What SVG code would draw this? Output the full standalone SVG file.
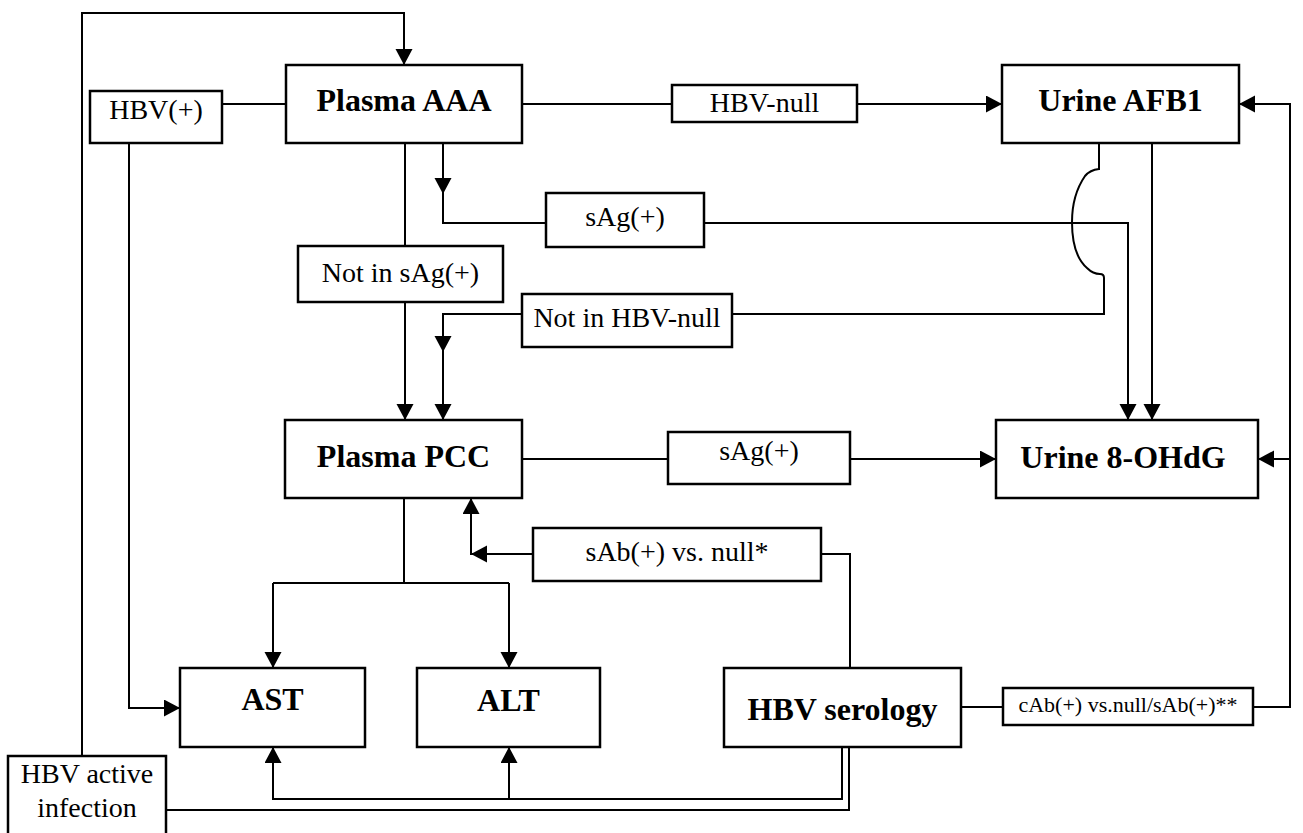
<svg xmlns="http://www.w3.org/2000/svg" width="1303" height="833" viewBox="0 0 1303 833">
<defs>
<marker id="ah" markerUnits="userSpaceOnUse" markerWidth="18" markerHeight="18" refX="16" refY="8.5" orient="auto">
<path d="M0,0 L16,8.5 L0,17 z" fill="#000"/>
</marker>
<style>
.box{fill:#fff;stroke:#000;stroke-width:2.5}
.n{font-family:"Liberation Serif","Times New Roman",serif;font-weight:bold;font-size:32px;text-anchor:middle;fill:#000}
.e{font-family:"Liberation Serif","Times New Roman",serif;font-size:28px;text-anchor:middle;fill:#000}
.s{font-family:"Liberation Serif","Times New Roman",serif;font-size:22px;text-anchor:middle;fill:#000}
.c{fill:none;stroke:#000;stroke-width:2}
.a{marker-end:url(#ah)}
</style>
</defs>
<rect width="1303" height="833" fill="#fff"/>
<g id="connectors">
<path class="c a" d="M82,756 V13 H404 V65"/>
<path class="c" d="M222,104 H286"/>
<path class="c" d="M522,104 H672"/>
<path class="c a" d="M857,104 H1002"/>
<path class="c a" d="M129,143 V708 H180"/>
<path class="c" d="M405,143 V246"/>
<path class="c a" d="M405,302 V420"/>
<path class="c a" d="M443,143 V194"/>
<path class="c" d="M443,192 V223 H546"/>
<path class="c a" d="M704,223 H1128 V420"/>
<path class="c a" d="M1152,143 V420"/>
<path class="c" d="M1099,143 V169 Q1090,170 1085,176 Q1072,195 1072,222 Q1072,255 1087,268 Q1093,274 1100,274 Q1104,274 1104,278 V314 H732"/>
<path class="c a" d="M522,314 H443 V352"/>
<path class="c a" d="M443,350 V420"/>
<path class="c" d="M522,459 H668"/>
<path class="c a" d="M850,459 H996"/>
<path class="c" d="M404,498 V583 M273,583 H509"/>
<path class="c a" d="M273,583 V668"/>
<path class="c a" d="M509,583 V668"/>
<path class="c" d="M850,668 V554 H821"/>
<path class="c a" d="M533,554 H471"/>
<path class="c a" d="M471,555 V498"/>
<path class="c" d="M961,707 H1003"/>
<path class="c a" d="M1253,707 H1290 V104 H1239"/>
<path class="c a" d="M1290,459 H1258"/>
<path class="c a" d="M842,747 V799 H273 V747"/>
<path class="c a" d="M509,799 V747"/>
<path class="c" d="M166,810 H849 V747"/>
</g>
<g id="hbv-pos"><rect class="box" x="90" y="91" width="132" height="52"/><text class="e" x="156" y="119">HBV(+)</text></g>
<g id="plasma-aaa"><rect class="box" x="286" y="65" width="236" height="78"/><text class="n" x="404" y="111">Plasma AAA</text></g>
<g id="hbv-null"><rect class="box" x="672" y="85" width="185" height="37"/><text class="e" x="764.5" y="112">HBV-null</text></g>
<g id="urine-afb1"><rect class="box" x="1002" y="65" width="237" height="78"/><text class="n" x="1120.5" y="111">Urine AFB1</text></g>
<g id="sag-top"><rect class="box" x="546" y="193" width="158" height="54"/><text class="e" x="625" y="226">sAg(+)</text></g>
<g id="not-sag"><rect class="box" x="298" y="246" width="205" height="56"/><text class="e" x="400.5" y="282">Not in sAg(+)</text></g>
<g id="not-hbv-null"><rect class="box" x="522" y="294" width="210" height="53"/><text class="e" x="627" y="327">Not in HBV-null</text></g>
<g id="plasma-pcc"><rect class="box" x="285" y="420" width="237" height="78"/><text class="n" x="403.5" y="467">Plasma PCC</text></g>
<g id="sag-mid"><rect class="box" x="668" y="432" width="182" height="52"/><text class="e" x="759" y="460">sAg(+)</text></g>
<g id="urine-8ohdg"><rect class="box" x="996" y="420" width="262" height="78"/><text class="n" x="1123" y="468">Urine 8-OHdG</text></g>
<g id="sab"><rect class="box" x="533" y="528" width="288" height="53"/><text class="e" x="677" y="561">sAb(+) vs. null*</text></g>
<g id="ast"><rect class="box" x="180" y="668" width="185" height="79"/><text class="n" x="272.5" y="710">AST</text></g>
<g id="alt"><rect class="box" x="417" y="668" width="183" height="79"/><text class="n" x="508.5" y="711">ALT</text></g>
<g id="hbv-serology"><rect class="box" x="724" y="668" width="237" height="79"/><text class="n" x="842.5" y="720">HBV serology</text></g>
<g id="cab"><rect class="box" x="1003" y="688" width="250" height="37"/><text class="s" x="1128" y="712">cAb(+) vs.null/sAb(+)**</text></g>
<g id="hbv-active"><rect class="box" x="8" y="756" width="158" height="90"/><text class="e" x="87" y="783">HBV active</text><text class="e" x="87" y="817">infection</text></g>
</svg>
